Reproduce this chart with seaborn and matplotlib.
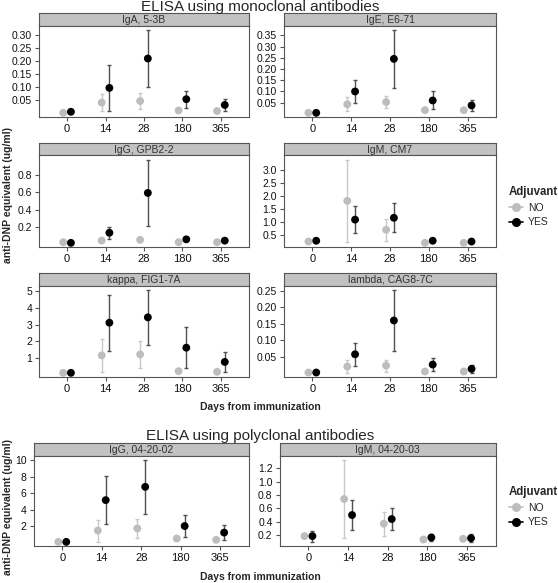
import numpy as np
import pandas as pd
import matplotlib
matplotlib.use("Agg")
import matplotlib.pyplot as plt
from matplotlib.lines import Line2D
import seaborn as sns

# x categories and groups
days = ["0", "14", "28", "180", "365"]
groups = ["NO", "YES"]

# --- ELISA using monoclonal antibodies ---
iga_no = [0.002, 0.041, 0.047, 0.011, 0.009]
iga_no_err = [0, 0.033, 0.032, 0, 0]
iga_yes = [0.006, 0.097, 0.209, 0.054, 0.032]
iga_yes_err = [0, 0.089, 0.110, 0.032, 0.023]
iga_ticks = ["0.05", "0.10", "0.15", "0.20", "0.25", "0.30"]

ige_no = [0.005, 0.043, 0.053, 0.017, 0.017]
ige_no_err = [0, 0.031, 0.028, 0, 0]
ige_yes = [0.005, 0.100, 0.245, 0.060, 0.038]
ige_yes_err = [0, 0.050, 0.130, 0.040, 0.024]
ige_ticks = ["0.05", "0.10", "0.15", "0.20", "0.25", "0.30", "0.35"]

igg_no = [0.027, 0.046, 0.054, 0.027, 0.027]
igg_no_err = [0, 0, 0, 0, 0]
igg_yes = [0.020, 0.135, 0.590, 0.060, 0.045]
igg_yes_err = [0, 0.066, 0.380, 0, 0]
igg_ticks = ["0.2", "0.4", "0.6", "0.8"]

igm_no = [0.24, 1.80, 0.69, 0.19, 0.19]
igm_no_err = [0, 1.58, 0.43, 0, 0]
igm_yes = [0.27, 1.08, 1.15, 0.27, 0.24]
igm_yes_err = [0, 0.52, 0.55, 0, 0]
igm_ticks = ["0.5", "1.0", "1.5", "2.0", "2.5", "3.0"]

kappa_no = [0.12, 1.16, 1.22, 0.22, 0.18]
kappa_no_err = [0, 0.97, 0.80, 0, 0]
kappa_yes = [0.12, 3.11, 3.43, 1.62, 0.77]
kappa_yes_err = [0, 1.66, 1.65, 1.21, 0.62]
kappa_ticks = ["1", "2", "3", "4", "5"]

lambda_no = [0.003, 0.021, 0.024, 0.006, 0.006]
lambda_no_err = [0, 0.019, 0.018, 0, 0]
lambda_yes = [0.003, 0.058, 0.160, 0.027, 0.014]
lambda_yes_err = [0, 0.034, 0.093, 0.019, 0.012]
lambda_ticks = ["0.05", "0.10", "0.15", "0.20", "0.25"]

# --- ELISA using polyclonal antibodies ---
pigg_no = [0.13, 1.50, 1.76, 0.54, 0.38]
pigg_no_err = [0, 1.34, 1.13, 0, 0]
pigg_yes = [0.13, 5.19, 6.80, 2.05, 1.26]
pigg_yes_err = [0, 2.93, 3.30, 1.30, 0.90]
pigg_ticks = ["2", "4", "6", "8", "10"]

pigm_no = [0.185, 0.74, 0.37, 0.133, 0.144]
pigm_no_err = [0, 0.59, 0.18, 0, 0]
pigm_yes = [0.185, 0.50, 0.44, 0.164, 0.154]
pigm_yes_err = [0.082, 0.22, 0.17, 0.056, 0.056]
pigm_ticks = ["0.2", "0.4", "0.6", "0.8", "1.0", "1.2"]

sns.set_theme(style="white")
plt.rcParams["font.family"] = ["Liberation Sans", "DejaVu Sans"]

W, H = 558, 583
fig = plt.figure(figsize=(W / 100, H / 100), dpi=100)

pt_col = {"NO": "#bdbdbd", "YES": "#000000"}
bar_col = {"NO": "#c8c8c8", "YES": "#505050"}
edge = "#555555"


def box(x0, y0, x1, y1):
    # pixel box (y measured from top) -> figure fraction
    return [x0 / W, 1 - y1 / H, (x1 - x0) / W, (y1 - y0) / H]


def panel(x0, x1, top, bottom, name, no, no_err, yes, yes_err, ticks):
    sh = 12.5
    strip = fig.add_axes(box(x0, top, x1, top + sh))
    strip.set_facecolor("#c2c2c2")
    strip.set_xticks([])
    strip.set_yticks([])
    for s in strip.spines.values():
        s.set_color(edge)
        s.set_linewidth(0.8)
    strip.text(0.5, 0.45, name, ha="center", va="center", fontsize=7.5,
               color="#333333", transform=strip.transAxes)

    ax = fig.add_axes(box(x0, top + sh, x1, bottom))
    rows = []
    for g, vals, errs in [("NO", no, no_err), ("YES", yes, yes_err)]:
        for i, d in enumerate(days):
            rows.append({"day": d, "pos": i + (-0.1 if g == "NO" else 0.1),
                         "group": g, "value": vals[i], "err": errs[i]})
    df = pd.DataFrame(rows)
    for g in groups:
        sub = df[df.group == g]
        ax.errorbar(sub.pos, sub.value, yerr=sub.err, fmt="none",
                    ecolor=bar_col[g], elinewidth=1, capsize=1.6,
                    capthick=1, zorder=2)
    sns.scatterplot(data=df, x="pos", y="value", hue="group", palette=pt_col,
                    s=32, edgecolor="none", legend=False, ax=ax, zorder=3)

    lo = (df.value - df.err).min()
    hi = (df.value + df.err).max()
    r = hi - lo
    ax.set_ylim(lo - 0.05 * r, hi + 0.05 * r)
    ax.set_xlim(-0.73, 4.73)
    ax.set_xticks(range(len(days)))
    ax.set_xticklabels(days)
    ax.set_yticks([float(t) for t in ticks])
    ax.set_yticklabels(ticks)
    ax.set_xlabel("")
    ax.set_ylabel("")
    ax.tick_params(axis="both", which="both", direction="out", length=3,
                   width=0.8, color=edge, labelcolor="#111111",
                   pad=2, left=True, bottom=True)
    ax.tick_params(axis="y", labelsize=7.5)
    ax.tick_params(axis="x", labelsize=8)
    for s in ax.spines.values():
        s.set_color(edge)
        s.set_linewidth(0.8)
    return ax


# top block: 3 rows x 2 columns
cols = [(39, 249), (284, 496)]
row_tops = [13, 143, 273]
mono = [
    ("IgA, 5-3B", iga_no, iga_no_err, iga_yes, iga_yes_err, iga_ticks),
    ("IgE, E6-71", ige_no, ige_no_err, ige_yes, ige_yes_err, ige_ticks),
    ("IgG, GPB2-2", igg_no, igg_no_err, igg_yes, igg_yes_err, igg_ticks),
    ("IgM, CM7", igm_no, igm_no_err, igm_yes, igm_yes_err, igm_ticks),
    ("kappa, FIG1-7A", kappa_no, kappa_no_err, kappa_yes, kappa_yes_err, kappa_ticks),
    ("lambda, CAG8-7C", lambda_no, lambda_no_err, lambda_yes, lambda_yes_err, lambda_ticks),
]
for k, p in enumerate(mono):
    r, c = divmod(k, 2)
    panel(cols[c][0], cols[c][1], row_tops[r], row_tops[r] + 104, *p)

# bottom block
poly = [
    ("IgG, 04-20-02", pigg_no, pigg_no_err, pigg_yes, pigg_yes_err, pigg_ticks),
    ("IgM, 04-20-03", pigm_no, pigm_no_err, pigm_yes, pigm_yes_err, pigm_ticks),
]
pcols = [(33.5, 249), (279.5, 496)]
for c, p in enumerate(poly):
    panel(pcols[c][0], pcols[c][1], 443, 546, *p)

# titles and axis labels
fig.text(260 / W, 1 - 7 / H, "ELISA using monoclonal antibodies",
         ha="center", va="center", fontsize=11)
fig.text(260 / W, 1 - 436 / H, "ELISA using polyclonal antibodies",
         ha="center", va="center", fontsize=11)
fig.text(260 / W, 1 - 407 / H, "Days from immunization", ha="center",
         va="center", fontsize=7.5, fontweight="bold")
fig.text(260 / W, 1 - 577 / H, "Days from immunization", ha="center",
         va="center", fontsize=7.5, fontweight="bold")
fig.text(8 / W, 1 - 195 / H, "anti-DNP equivalent (ug/ml)", rotation=90,
         ha="center", va="center", fontsize=7.5, fontweight="bold")
fig.text(8 / W, 1 - 507 / H, "anti-DNP equivalent (ug/ml)", rotation=90,
         ha="center", va="center", fontsize=7.5, fontweight="bold")

# legends
handles = [Line2D([0], [0], color=pt_col[g], marker="o", markersize=5.5,
                  lw=1.2, label=g) for g in groups]
for ytop in [186, 486]:
    leg = fig.legend(handles=handles, title="Adjuvant", loc="upper left",
                     bbox_to_anchor=(509 / W, 1 - ytop / H), frameon=False,
                     fontsize=7.5, handlelength=1.3, handletextpad=0.5,
                     labelspacing=0.45, borderaxespad=0, borderpad=0,
                     alignment="left")
    leg.get_title().set_fontweight("bold")
    leg.get_title().set_fontsize(8.3)

fig.savefig("out.png", dpi=100)
